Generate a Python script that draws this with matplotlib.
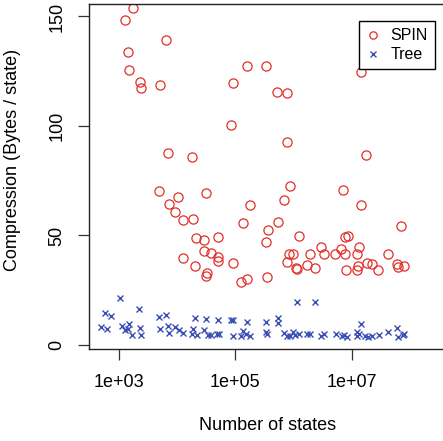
import numpy as np
import matplotlib
matplotlib.use("Agg")
import matplotlib.pyplot as plt

plt.rcParams['font.family'] = ['Liberation Sans', 'DejaVu Sans']

# compression per state for each model, SPIN vs. tree encoding
spin_states = [1.72e3, 1.29e3, 6.55e3, 1.45e3, 1.51e3, 2.34e3, 2.43e3, 5.01e3, 1.58e5, 9.06e4,
               8.37e4, 3.31e5, 5.24e5, 7.6e5, 7.6e5, 1.43e7, 6.97e3, 1.83e4, 4.96e3, 1.05e4,
               3.19e4, 7.37e3, 9.2e3, 1.26e4, 1.88e4, 1.78e5, 1.35e5, 2.15e4, 2.9e4, 5.14e4,
               2.9e4, 3.89e4, 5.06e4, 5.14e4, 1.26e4, 2.03e4, 9.06e4, 3.27e4, 3.14e4, 1.24e5,
               1.6e5, 1.74e7, 8.67e5, 7.08e6, 6.92e5, 1.43e7, 5.32e5, 3.62e5, 3.39e5, 1.27e6,
               7.59e6, 8.53e6, 7.14e7, 2.92e6, 6.62e6, 1.34e7, 8.24e5, 9.89e5, 1.89e6, 3.37e6,
               5.22e6, 7.67e6, 1.22e7, 4.27e7, 7.69e5, 1.11e6, 1.15e6, 1.72e6, 2.33e6, 1.81e7,
               2.21e7, 1.27e7, 1.22e7, 7.88e6, 2.87e7, 6.03e7, 6.19e7, 8.04e7, 3.53e5]
spin_bytes = [154.0, 148.4, 139.1, 133.9, 125.6, 120.0, 117.5, 118.7, 127.5, 119.5,
              100.6, 127.5, 115.4, 115.1, 92.6, 124.7, 87.7, 85.8, 70.5, 67.7,
              69.5, 64.2, 60.6, 56.9, 57.5, 63.9, 55.6, 49.0, 47.9, 49.3,
              42.8, 42.1, 40.3, 38.4, 39.9, 35.9, 37.6, 33.0, 31.5, 28.9,
              30.1, 86.6, 72.7, 70.9, 66.2, 64.1, 56.3, 52.5, 47.0, 49.8,
              49.2, 49.9, 54.3, 44.7, 44.0, 44.9, 41.7, 41.4, 41.7, 41.4,
              41.6, 41.4, 41.4, 41.7, 38.0, 35.3, 34.8, 36.7, 35.2, 37.4,
              37.1, 36.2, 34.1, 34.1, 34.1, 36.8, 35.5, 35.9, 31.1]

tree_states = [1.04e3, 574, 728, 2.24e3, 498, 631, 1.13e3, 1.49e3, 1.29e3, 1.43e3,
               1.7e3, 2.34e3, 2.43e3, 4.96e3, 6.55e3, 5.08e3, 6.97e3, 7.26e3, 9.2e3, 1.07e4,
               1.26e4, 2.03e4, 3.19e4, 5.0e4, 1.88e4, 1.8e4, 2.17e4, 2.9e4, 3.37e4, 3.89e4,
               4.94e4, 5.2e4, 8.6e4, 9.17e4, 9.06e4, 1.58e5, 1.35e5, 1.26e5, 1.5e5, 1.8e5,
               3.31e5, 3.39e5, 1.13e6, 2.33e6, 5.32e5, 5.38e5, 3.53e5, 6.84e5, 7.6e5, 8.67e5,
               9.89e5, 1.07e6, 1.25e6, 1.68e6, 1.91e6, 2.92e6, 3.37e6, 5.31e6, 6.73e6, 7.36e6,
               8.2e6, 1.45e7, 1.22e7, 1.25e7, 1.34e7, 1.71e7, 1.91e7, 2.23e7, 2.92e7, 4.27e7,
               6.03e7, 6.34e7, 7.55e7, 8.04e7]
tree_bytes = [21.5, 14.7, 13.2, 16.4, 8.1, 7.4, 8.5, 9.5, 7.0, 7.2,
              4.6, 7.6, 4.4, 12.6, 13.7, 7.3, 8.5, 5.3, 8.2, 6.7,
              5.5, 12.2, 12.0, 11.4, 7.2, 4.9, 4.6, 6.8, 4.6, 4.6,
              4.9, 4.9, 11.4, 11.4, 4.2, 10.6, 6.5, 4.2, 5.0, 4.0,
              10.5, 6.1, 19.8, 19.8, 12.2, 10.2, 4.9, 5.3, 4.2, 4.2,
              5.8, 4.6, 4.9, 5.0, 5.0, 4.1, 5.0, 5.0, 4.1, 4.6,
              3.8, 9.6, 5.8, 4.2, 5.0, 4.1, 3.8, 4.1, 4.7, 5.9,
              7.6, 3.8, 4.6, 5.2]

x_ticks = [1e3, 1e5, 1e7]
x_tick_labels = ["1e+03", "1e+05", "1e+07"]
y_ticks = [0, 50, 100, 150]

W, H = 443, 441
fig = plt.figure(figsize=(W / 100, H / 100), dpi=100)
ax = fig.add_axes([89 / W, (H - 349) / H, (444 - 89) / W, (349 - 4) / H])

ax.plot(spin_states, spin_bytes, linestyle='none', marker='o', markersize=6.6,
        markerfacecolor='none', markeredgecolor='#e0302a', markeredgewidth=0.9, label='SPIN')
ax.plot(tree_states, tree_bytes, linestyle='none', marker='x', markersize=4.8,
        color='#3a4fb4', markeredgewidth=1.0, label='Tree')

ax.set_xscale('log')
ax.set_xlim(10 ** 2.484, 10 ** 8.589)
ax.set_ylim(-1.83, 155.7)
ax.minorticks_off()
ax.set_xticks(x_ticks)
ax.set_xticklabels(x_tick_labels)
ax.set_yticks(y_ticks)
ax.set_yticklabels([str(v) for v in y_ticks], rotation=90, va='center')
ax.tick_params(axis='both', length=8, width=0.9, labelsize=13, color='#333333')
ax.tick_params(axis='x', pad=10)
ax.tick_params(axis='y', pad=9)
for s in ax.spines.values():
    s.set_linewidth(1.0)
    s.set_color('#222222')

fig.text(268 / W, 1 - 425 / H, "Number of states", ha='center', va='center', fontsize=13)
fig.text(13 / W, 1 - 160 / H, "Compression (Bytes / state)", ha='center', va='center',
         rotation=90, fontsize=13)

leg = ax.legend(loc='upper left', bbox_to_anchor=(359 / W, 1 - 21 / H),
                bbox_transform=fig.transFigure, borderaxespad=0, fontsize=11.5,
                handlelength=0.9, handletextpad=0.6, borderpad=0.45, labelspacing=0.25,
                markerscale=0.8, fancybox=False, framealpha=1, edgecolor='black')
leg.get_frame().set_linewidth(1.0)

fig.savefig("out.png", dpi=100)
